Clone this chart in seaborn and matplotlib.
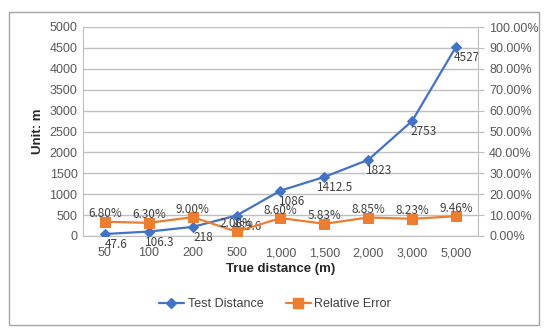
import matplotlib
matplotlib.use("Agg")
import matplotlib.pyplot as plt
import seaborn as sns
import pandas as pd
from matplotlib.lines import Line2D
from matplotlib.patches import Rectangle
from matplotlib.ticker import FuncFormatter

# Data
true_distance = ["50", "100", "200", "500", "1,000", "1,500", "2,000", "3,000", "5,000"]
test_distance = [47.6, 106.3, 218, 489.6, 1086, 1412.5, 1823, 2753, 4527]
test_labels = ["47.6", "106.3", "218", "489.6", "1086", "1412.5", "1823", "2753", "4527"]
relative_error = [6.80, 6.30, 9.00, 2.08, 8.60, 5.83, 8.85, 8.23, 9.46]

blue = "#4472C4"
orange = "#ED7D31"
grid = "#BFBFBF"

sns.set_style("white")
plt.rcParams["font.family"] = ["Liberation Sans", "DejaVu Sans"]

df = pd.DataFrame({"dist": true_distance, "test": test_distance, "err": relative_error})
df["pos"] = range(len(df))

fig = plt.figure(figsize=(5.5, 3.31), dpi=100)
fig.patches.append(Rectangle((9 / 550, 1 - 325 / 331), 530 / 550, 313 / 331,
                             transform=fig.transFigure, fill=False,
                             edgecolor="#A6A6A6", linewidth=1.0))
ax = fig.add_axes([83 / 550, 1 - 236 / 331, 395 / 550, 209 / 331])
ax2 = ax.twinx()

sns.lineplot(data=df, x="pos", y="test", ax=ax, color=blue, marker="D",
             markersize=5, linewidth=1.6, markeredgecolor=blue, zorder=3)
sns.lineplot(data=df, x="pos", y="err", ax=ax2, color=orange, marker="s",
             markersize=7, linewidth=1.6, markeredgecolor=orange, zorder=3)

ax.set_xlim(-0.5, len(df) - 0.5)
ax.set_ylim(0, 5000)
ax.set_yticks(range(0, 5001, 500))
ax.set_xticks(df["pos"])
ax.set_xticklabels(true_distance)
ax2.set_ylim(0, 100)
ax2.set_yticks(range(0, 101, 10))
ax2.yaxis.set_major_formatter(FuncFormatter(lambda v, p: f"{v:.2f}%"))

ax.yaxis.grid(True, color=grid, linewidth=1.0)
ax.set_axisbelow(True)
for a in (ax, ax2):
    for s in ("top", "bottom", "left", "right"):
        a.spines[s].set_visible(False)
ax.spines["left"].set_visible(True)
ax.spines["left"].set_color(grid)
ax.spines["bottom"].set_visible(True)
ax.spines["bottom"].set_color(grid)
ax2.spines["right"].set_visible(True)
ax2.spines["right"].set_color(grid)

ax.tick_params(axis="both", length=0, labelsize=9, colors="#595959", pad=4)
ax.tick_params(axis="x", pad=8)
ax2.tick_params(axis="y", length=4, color=grid, labelsize=9, labelcolor="#595959", pad=4)

ax.set_xlabel("True distance (m)", fontsize=9.5, fontweight="bold", color="#262626", labelpad=3)
ax.set_ylabel("Unit: m", fontsize=9.5, fontweight="bold", color="#262626", labelpad=4)
ax2.set_ylabel("")

lab_font = ["Noto Sans CJK SC", "DejaVu Sans"]
for i, (v, t) in enumerate(zip(test_distance, test_labels)):
    ax.annotate(t, (i, v), xytext=(8, -3), textcoords="offset points",
                ha="center", va="top", fontsize=8.5, color="#404040", family=lab_font)
for i, e in enumerate(relative_error):
    ax2.annotate(f"{e:.2f}%", (i, e), xytext=(0, 1), textcoords="offset points",
                 ha="center", va="bottom", fontsize=8.5, color="#404040", family=lab_font)

handles = [Line2D([], [], color=blue, marker="D", markersize=5, linewidth=1.6),
           Line2D([], [], color=orange, marker="s", markersize=7, linewidth=1.6)]
fig.legend(handles, ["Test Distance", "Relative Error"], loc="center",
           bbox_to_anchor=(0.5, 1 - 304 / 331), ncol=2, frameon=False,
           fontsize=9, handlelength=2.0, handletextpad=0.3, columnspacing=1.8,
           labelcolor="#404040")

fig.savefig("out.png", dpi=100)
